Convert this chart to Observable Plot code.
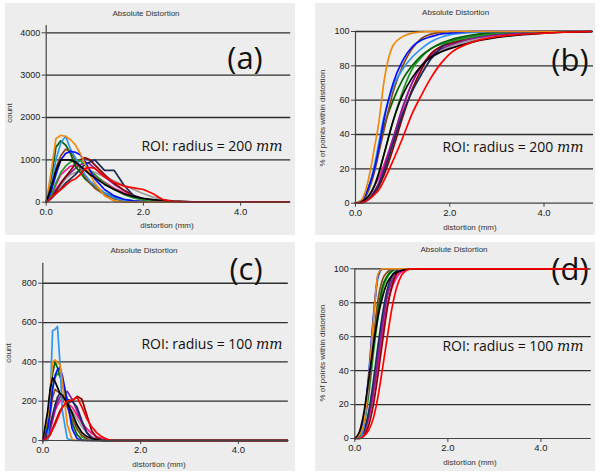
<!DOCTYPE html>
<html>
<head>
<meta charset="utf-8">
<script src="https://cdn.jsdelivr.net/npm/d3@7"></script>
<script src="https://cdn.jsdelivr.net/npm/@observablehq/plot@0.6"></script>
<style>
  html, body { margin: 0; padding: 0; background: #fff; }
  #page { position: relative; width: 600px; height: 473px; overflow: hidden; font-family: "Liberation Sans", Arial, sans-serif; }
  .panel { position: absolute; background: #ededed; }
  .panel svg { position: absolute; left: 0; top: 0; z-index: 2; background: transparent; }
  .t { position: absolute; white-space: nowrap; transform: translate(-50%, -50%); color: #222; line-height: 1; }
  .small { font-family: "Liberation Sans", Arial, sans-serif; font-size: 8px; color: #333; }
  .ann { font-family: "Open Sans", Lato, sans-serif; color: #111; z-index: 1; }
  .big { font-size: 31px; }
  .roi { font-size: 14px; }
  .mm { font-family: "DejaVu Serif", "Liberation Serif", serif; font-style: italic; }
  .rot { transform: translate(-50%, -50%) rotate(-90deg); }
</style>
</head>
<body>
<div id="page"></div>
<script>
// ---------------- data ----------------
const seriesNames  = ["run 1","run 2","run 3","run 4","run 5","run 6","run 7","run 8","run 9","run 10","run 11","run 12","run 13"];
const seriesColors = ["#9a9a9a","#ff1493","#8b1a9b","#8b0000","#1c2b5a","#1f9a2a","#006400","#8b4a13","#2e95f0","#0010ff","#f08a10","#000000","#ff0000"];

// (a) histogram, ROI radius 200 mm
const xA = [0,0.1,0.2,0.3,0.4,0.5,0.6,0.7,0.8,0.9,1.0,1.2,1.4,1.6,1.8,2.0,2.2,2.4,2.6,3.0,5.0];
const countA = [
  [0,100,250,400,550,650,700,750,760,740,700,600,500,400,300,200,120,60,30,10,0],      // gray
  [0,150,400,650,750,850,880,850,780,700,620,470,330,220,130,70,30,10,0,0,0],           // deeppink
  [0,100,300,450,600,700,800,880,950,900,800,600,420,280,160,80,30,10,0,0,0],           // purple
  [0,100,250,450,600,750,900,1000,1050,1000,880,650,450,280,150,70,25,5,0,0,0],         // darkred
  [0,80,200,320,450,550,650,780,900,950,1000,750,750,400,150,60,20,5,0,0,0],            // navy
  [0,150,450,700,850,950,1000,980,880,750,650,450,300,180,100,50,20,5,0,0,0],           // green
  [0,500,1300,1450,1350,1150,850,700,550,450,380,220,120,60,25,10,0,0,0,0,0],           // darkgreen
  [0,300,800,1100,1250,1200,1000,800,600,450,330,180,80,30,10,0,0,0,0,0,0],             // brown
  [0,400,1000,1400,1560,1250,1050,850,650,500,400,220,100,40,10,0,0,0,0,0,0],           // light blue
  [0,250,650,1000,1150,1200,1180,1120,950,750,550,300,150,70,30,15,5,0,0,0,0],          // blue
  [0,700,1500,1580,1550,1480,1350,1150,900,650,450,150,30,5,0,0,0,0,0,0,0],             // orange
  [0,350,750,1000,1000,1000,950,850,750,650,580,420,300,200,130,90,60,40,25,10,0],      // black
  [0,100,200,300,400,500,550,650,800,820,800,600,470,380,340,300,200,60,20,5,0]         // red
];

// (b) cumulative %, ROI radius 200 mm
const xB = [0,0.1,0.2,0.3,0.4,0.5,0.6,0.8,1.0,1.2,1.4,1.6,1.8,2.0,2.5,3.0,4.0,5.0];
const pctB = [
  [0,0.2,1,3,7,12,20,36,52,66,76,84,88,91,95,98,99.5,100],           // gray
  [0,0.5,2,5,10,15,22,38,55,70,80,87,91,93,97,99,100,100],           // deeppink
  [0,0.2,1,3,7,12,20,38,56,70,80,86,89.5,92,96,98,99.5,100],         // purple
  [0,0.2,1,3,6,10,16,32,50,66,78,87,91,93,97,99,100,100],            // darkred
  [0,0.2,1,3,6,11,18,35,52,65,75,84,90,94,97,99,100,100],            // navy
  [0,0.5,2,5,10,18,28,48,65,78,85,90,92.5,94,97,99,100,100],         // green
  [0,1,4,11,20,32,44,60,72,80,86,90,93,95,98,99.5,100,100],          // darkgreen
  [0,0.5,3,9,18,30,42,65,80,90,96,98.5,99.5,100,100,100,100,100],    // brown
  [0,1,4,11,22,36,50,68,78,85,90,94,96.5,98,99.5,100,100,100],       // light blue
  [0,1,4,11,20,33,48,70,83,91,95,97,98.5,99,100,100,100,100],        // blue
  [0,1,6,17,32,48,70,92,97,99,99.7,100,100,100,100,100,100,100],     // orange
  [0,0.5,2,5,10,18,28,48,63,73,80,85,88,90,94,96.5,99,100],          // black
  [0,0.2,1,2.5,5,8,13,25,38,52,63,73,81,87,94,97,99,100]             // red
];

// (c) histogram, ROI radius 100 mm
const xC = [0,0.1,0.15,0.2,0.25,0.3,0.35,0.4,0.5,0.6,0.7,0.8,0.9,1.0,1.1,1.2,1.3,1.4,1.5,5.0];
const countC = [
  [0,30,70,120,170,200,210,200,180,150,110,70,40,20,8,0,0,0,0,0],          // gray
  [0,20,50,100,150,180,200,200,190,170,130,90,60,35,20,10,5,2,0,0],        // deeppink
  [0,20,60,110,160,200,220,230,250,210,150,90,40,15,5,0,0,0,0,0],          // purple
  [0,10,30,60,90,120,150,170,190,200,225,210,130,50,15,5,0,0,0,0],         // darkred
  [0,30,80,130,180,220,240,230,210,200,170,100,40,10,0,0,0,0,0,0],         // navy
  [0,80,180,270,320,340,330,300,210,130,60,20,5,0,0,0,0,0,0,0],            // green
  [0,100,250,340,400,370,330,290,190,90,30,5,0,0,0,0,0,0,0,0],             // darkgreen
  [0,50,130,220,260,250,240,220,170,110,60,25,10,0,0,0,0,0,0,0],           // brown
  [0,0,200,560,565,580,400,150,10,0,0,0,0,0,0,0,0,0,0,0],                  // light blue
  [0,60,150,260,330,360,370,330,200,60,10,0,0,0,0,0,0,0,0,0],              // blue
  [0,120,250,400,410,395,390,300,80,5,0,0,0,0,0,0,0,0,0,0],                // orange
  [0,150,260,320,300,270,240,230,190,140,80,40,20,10,5,0,0,0,0,0],         // black
  [0,15,30,55,80,110,140,170,200,205,220,170,110,70,40,20,8,0,0,0]         // red
];

// (d) cumulative %, ROI radius 100 mm
const xD = [0,0.1,0.2,0.3,0.4,0.5,0.6,0.7,0.8,0.9,1.0,1.1,1.2,1.4,5.0];
const pctD = [
  [0,1,5,15,32,52,71,86,94,98,100,100,100,100,100],        // gray
  [0,1,4,12,26,44,63,79,89,95,98,99.5,100,100,100],        // deeppink
  [0,1,4,13,28,48,68,84,93,97,99,100,100,100,100],         // purple
  [0,0,2,8,20,38,58,77,90,97,99,100,100,100,100],          // darkred
  [0,1,5,16,34,55,74,88,96,99,100,100,100,100,100],        // navy
  [0,1,8,26,50,72,88,95,98.5,100,100,100,100,100,100],     // green
  [0,2,10,30,55,76,90,96,99,100,100,100,100,100,100],      // darkgreen
  [0,2,10,30,58,82,94,98,100,100,100,100,100,100,100],     // brown
  [0,0,8,33,70,95,100,100,100,100,100,100,100,100,100],    // light blue
  [0,2,12,38,72,96,100,100,100,100,100,100,100,100,100],   // blue
  [0,2,10,35,70,97,100,100,100,100,100,100,100,100,100],   // orange
  [0,4,16,35,55,72,84,92,96,98,99,99.5,100,100,100],       // black
  [0,0,1.5,5,12,25,42,60,77,89,96,99,100,100,100]          // red
];

const xTicks = [0, 2, 4];
const countTicksA = [0, 1000, 2000, 3000, 4000];
const countTicksC = [0, 200, 400, 600, 800];
const pctTicks = [0, 20, 40, 60, 80, 100];

const panelTitle = "Absolute Distortion";
const xLabel = "distortion (mm)";
const countLabel = "count";
const pctLabel = "% of points within distortion";

// ---------------- helpers ----------------
function longTable(xs, rows) {
  const out = [];
  rows.forEach((vals, i) => vals.forEach((v, j) => out.push({x: xs[j], y: v, s: seriesNames[i]})));
  return out;
}

const page = document.getElementById("page");

function addText(parent, html, cx, cy, cls) {
  const d = document.createElement("div");
  d.className = "t " + cls;
  d.innerHTML = html;
  d.style.left = cx + "px";
  d.style.top = cy + "px";
  parent.appendChild(d);
  return d;
}

function makePanel(cfg) {
  const box = document.createElement("div");
  box.className = "panel";
  box.style.left = cfg.left + "px";
  box.style.top = cfg.top + "px";
  box.style.width = cfg.w + "px";
  box.style.height = cfg.h + "px";
  page.appendChild(box);

  const data = longTable(cfg.xs, cfg.rows);
  const svg = Plot.plot({
    width: cfg.w,
    height: cfg.h,
    marginLeft: cfg.ml,
    marginRight: cfg.mr,
    marginTop: cfg.mt,
    marginBottom: cfg.mb,
    style: {background: "transparent", color: "#222", fontFamily: "'Liberation Sans', Arial, sans-serif"},
    x: {domain: cfg.xDomain},
    y: {domain: cfg.yDomain},
    color: {type: "ordinal", domain: seriesNames, range: seriesColors},
    marks: [
      Plot.gridY(cfg.yTicks.filter(t => t > 0), {stroke: "#1a1a1a", strokeOpacity: 0.9, strokeWidth: 1.3}),
      Plot.lineY(data, {x: "x", y: "y", z: "s", stroke: "s", strokeWidth: 1.7, curve: cfg.curve}),
      Plot.ruleY([0], {stroke: "#444", strokeWidth: 1.2}),
      Plot.ruleX([0], {stroke: "#444", strokeWidth: 1.2}),
      Plot.axisY(cfg.yTicks, {tickSize: 4, tickPadding: 2, fontSize: 9, label: null, stroke: "#444", tickFormat: d3.format("d")}),
      Plot.axisX(xTicks, {tickSize: 4, tickPadding: 2, fontSize: 9.5, label: null, tickFormat: d3.format(".1f"), stroke: "#444"})
    ]
  });
  box.appendChild(svg);

  const L = cfg.left, T = cfg.top;
  addText(box, panelTitle, cfg.title[0] - L, cfg.title[1] - T, "small");
  addText(box, xLabel, cfg.xlab[0] - L, cfg.xlab[1] - T, "small");
  addText(box, cfg.yLabel, cfg.ylab[0] - L, cfg.ylab[1] - T, "small rot");
  addText(box, cfg.tag, cfg.tagPos[0] - L, cfg.tagPos[1] - T, "ann big");
  addText(box, cfg.roi, cfg.roiPos[0] - L, cfg.roiPos[1] - T, "ann roi");
}

const roi200 = 'ROI: radius = 200 <span class="mm">mm</span>';
const roi100 = 'ROI: radius = 100 <span class="mm">mm</span>';

makePanel({left: 5, top: 3, w: 290, h: 232, ml: 40.7, mr: 4.8, mt: 22, mb: 33.3,
  xDomain: [0, 5.03], yDomain: [0, 4172], yTicks: countTicksA, xs: xA, rows: countA, curve: "linear",
  yLabel: countLabel, title: [146, 14], xlab: [167, 226], ylab: [9.5, 113],
  tag: "(a)", tagPos: [245, 57], roi: roi200, roiPos: [212, 146]});

makePanel({left: 315, top: 3, w: 280, h: 232, ml: 40, mr: 2, mt: 28, mb: 32.3,
  xDomain: [0, 5.05], yDomain: [0, 100], yTicks: pctTicks, xs: xB, rows: pctB, curve: "monotone-x",
  yLabel: pctLabel, title: [455.7, 12.5], xlab: [470, 228], ylab: [323, 117.5],
  tag: "(b)", tagPos: [570, 59], roi: roi200, roiPos: [513, 147]});

makePanel({left: 5, top: 242, w: 290, h: 229, ml: 37.3, mr: 7.2, mt: 20.7, mb: 31,
  xDomain: [0, 5.02], yDomain: [0, 902], yTicks: countTicksC, xs: xC, rows: countC, curve: "linear",
  yLabel: countLabel, title: [144, 251], xlab: [159, 465], ylab: [8.5, 353],
  tag: "(c)", tagPos: [246, 268], roi: roi100, roiPos: [212, 344]});

makePanel({left: 315, top: 242, w: 280, h: 229, ml: 39.3, mr: 4.3, mt: 26.3, mb: 33,
  xDomain: [0, 5.08], yDomain: [0, 100], yTicks: pctTicks, xs: xD, rows: pctD, curve: "monotone-x",
  yLabel: pctLabel, title: [454, 250], xlab: [470, 463], ylab: [323, 353],
  tag: "(d)", tagPos: [570, 268], roi: roi100, roiPos: [513, 346]});
</script>
</body>
</html>
